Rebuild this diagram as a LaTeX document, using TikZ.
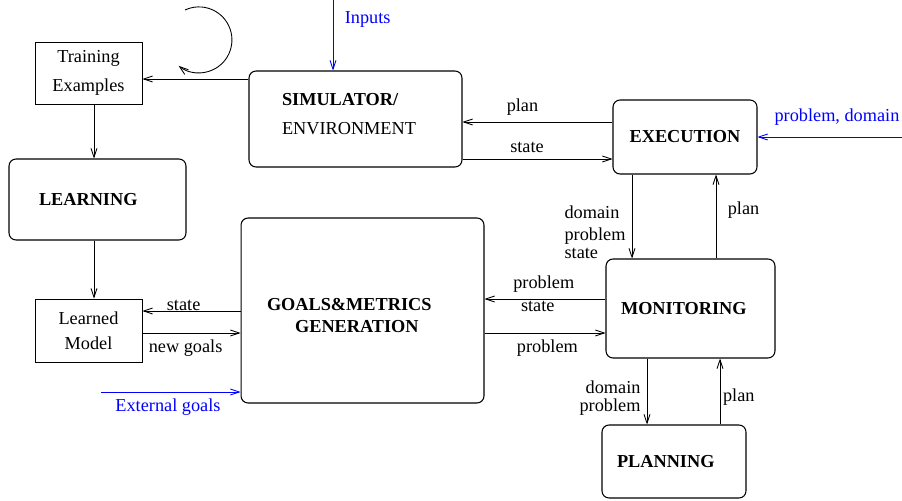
\documentclass[tikz,border=0pt]{standalone}
\usepackage{fontspec}
\setmainfont{Liberation Serif}
\usetikzlibrary{arrows.meta}
\begin{document}
\fontsize{10.4}{12.5}\selectfont
\begin{tikzpicture}[x=0.02cm, y=-0.02cm, >={Straight Barb[length=5pt,width=3.4pt]}, line width=0.5pt,
    block/.style={draw, rounded corners=4pt, align=left, font=\bfseries, line width=0.6pt},
    plainbox/.style={draw, align=center, line width=0.5pt, minimum width=2.14cm},
    input/.style={->, blue}]
    \useasboundingbox (0,0) rectangle (902,500);
    % left column: data and learning
    \node[plainbox, minimum height=1.24cm] (train) at (88.5,73) {Training\\[4pt]Examples};
    \node[block, text width=2.34cm, inner xsep=0.6cm, minimum height=1.62cm] (learn) at (97.5,199.5) {LEARNING};
    \node[plainbox, minimum height=1.26cm] (model) at (88.5,330.5) {Learned\\[2pt]Model};
    % middle: simulator and goal generation
    \node[block, text width=2.94cm, inner xsep=0.66cm, minimum height=1.92cm] (sim) at (355.5,119) {SIMULATOR/\\[4pt]\mdseries ENVIRONMENT\rule[-5.7pt]{0pt}{5.7pt}};
    \node[block, text width=3.82cm, inner xsep=0.52cm, minimum height=3.7cm] (goals) at (362.5,310.5) {\rule{0pt}{13pt}GOALS\&METRICS\\\hspace*{16pt}GENERATION};
    % right column: execution, monitoring, planning
    \node[block, align=center, minimum width=2.88cm, minimum height=1.48cm] (exec) at (685,137) {EXECUTION};
    \node[block, text width=2.78cm, inner xsep=0.3cm, minimum height=1.98cm] (mon) at (690.5,308.5) {MONITORING};
    \node[block, text width=2.28cm, inner xsep=0.3cm, minimum height=1.46cm] (plan) at (674,461.5) {PLANNING};
    % outside inputs
    \coordinate (in) at (333,0);
    \coordinate (ext) at (101,392);
    \coordinate (pd) at (902,137);
    \draw[input] (in) -- node[right=3pt, pos=0.27] {Inputs} (sim.north -| in);
    \draw[input] (ext) -- node[below, pos=0.48] {External goals} (goals.west |- ext);
    \draw[input] (pd) -- node[above=3pt, pos=0.45] {problem, domain} (exec.east |- pd);
    % arrows on the left
    \draw[->] (185,10) arc[start angle=115, end angle=-128, radius=0.66cm];
    \draw[->] (sim.west |- 0,79) -- (train.east |- 0,79);
    \draw[->] (train.south -| 94,0) -- (learn.north -| 94,0);
    \draw[->] (learn.south -| 94,0) -- (model.north -| 94,0);
    \draw[->] (goals.west |- 0,311) -- node[above, inner sep=0pt, pos=0.58] {state} (model.east |- 0,311);
    \draw[->] (model.east |- 0,333) -- node[below, pos=0.44] {new goals} (goals.west |- 0,333);
    % arrows on the right
    \draw[->] (exec.west |- 0,122) -- node[above, pos=0.6] {plan} (sim.east |- 0,122);
    \draw[->] (sim.east |- 0,159) -- node[above, pos=0.43] {state} (exec.west |- 0,159);
    \draw[->] (exec.south -| 632,0) -- node[left, pos=0.69, align=left] {domain\\problem\\[-2.5pt]state} (mon.north -| 632,0);
    \draw[->] (mon.north -| 716,0) -- node[right=3pt, pos=0.58] {plan} (exec.south -| 716,0);
    \draw[->] (mon.west |- 0,299) -- node[above, pos=0.51] {problem} node[below, pos=0.56, inner sep=1pt] {state} (goals.east |- 0,299);
    \draw[->] (goals.east |- 0,333) -- node[below, pos=0.52] {problem} (mon.west |- 0,333);
    \draw[->] (mon.south -| 647,0) -- node[left, pos=0.6, align=right] {domain\\[-1.8pt]problem} (plan.north -| 647,0);
    \draw[->] (plan.north -| 720,0) -- node[right, inner sep=1.5pt, pos=0.42] {plan} (mon.south -| 720,0);
\end{tikzpicture}
\end{document}
